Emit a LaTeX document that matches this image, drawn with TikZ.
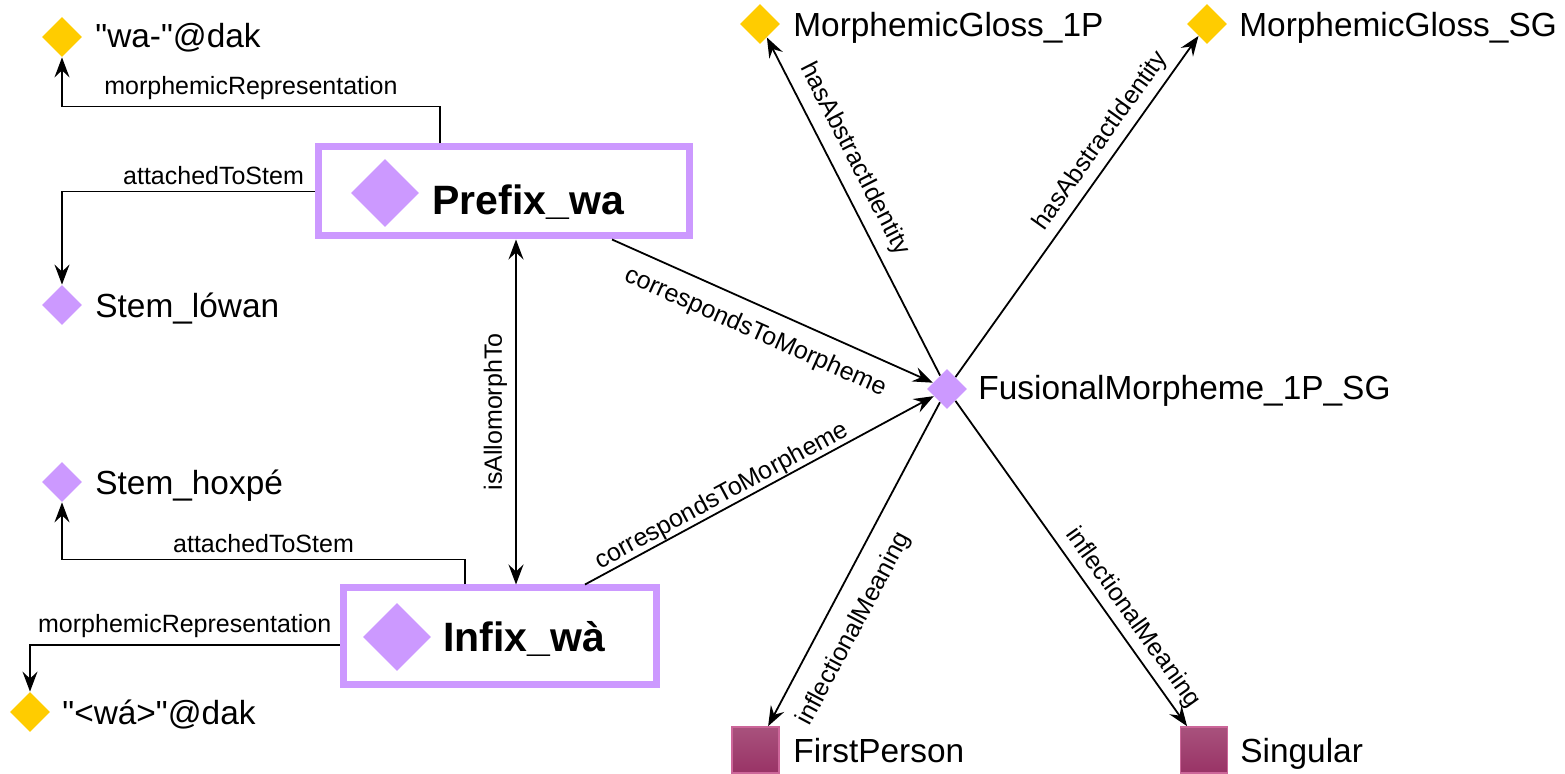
\documentclass[tikz,border=0pt]{standalone}
\usepackage{fontspec}
\setmainfont{Liberation Sans}
\usetikzlibrary{shapes.geometric,arrows.meta,calc}
\definecolor{lav}{HTML}{CC99FF}
\definecolor{gold}{HTML}{FFCC00}
\definecolor{plum}{HTML}{993366}
\definecolor{plumedge}{HTML}{CC6699}
\begin{document}
\begin{tikzpicture}[x=0.5pt,y=-0.5pt,
  dia/.style={diamond, inner sep=0pt, minimum width=20pt, minimum height=20pt},
  bigdia/.style={diamond, inner sep=0pt, minimum width=34pt, minimum height=34pt, fill=lav},
  bigbox/.style={rectangle, draw=lav, line width=3.5pt, fill=white, inner sep=0pt},
  sq/.style={rectangle, top color=plum!85!white, bottom color=plum, draw=plumedge, line width=0.8pt, minimum width=23.5pt, minimum height=23pt, inner sep=0pt},
  txt/.style={anchor=base west, inner sep=0pt, font=\fontsize{16.7}{20}\selectfont},
  boldtxt/.style={anchor=base west, inner sep=0pt, font=\fontsize{20.5}{24}\selectfont\bfseries},
  elbl/.style={inner sep=3pt, font=\fontsize{12.5}{15}\selectfont},
  tip/.tip={Stealth[length=10pt,width=7.5pt,inset=3.5pt]},
  arr/.style={-tip, line width=0.9pt},
  arrtwo/.style={tip-tip, line width=0.9pt}]
\useasboundingbox (0,0) rectangle (1565,774);

% boxes
\node[bigbox, minimum width=185.5pt, minimum height=44.5pt] (prefix) at (503.5,191.5) {};
\node[bigdia] (prefixd) at (385,193) {};
\node[boldtxt] (prefixt) at (432,215) {Prefix\_wa};
\node[bigbox, minimum width=156.5pt, minimum height=48.5pt] (infix) at (499.5,636.5) {};
\node[bigdia] (infixd) at (397,637) {};
\node[boldtxt] (infixt) at (443,652) {Infix\_wà};

% small nodes
\node[dia, fill=gold] (wadak) at (62,37) {};
\node[txt] (wadakt) at (95,48) {\textquotedbl wa-\textquotedbl @dak};
\node[dia, fill=lav] (stemlowan) at (62,305) {};
\node[txt] (stemlowant) at (95,318) {Stem\_lówan};
\node[dia, fill=lav] (stemhoxpe) at (62,482) {};
\node[txt] (stemhoxpet) at (95,495) {Stem\_hoxpé};
\node[dia, fill=gold] (wadaktwo) at (30,712) {};
\node[txt] (wadaktwot) at (62,725) {\textquotedbl <wá>\textquotedbl @dak};
\node[dia, fill=gold] (mgone) at (760,24) {};
\node[txt] (mgonet) at (793,37) {MorphemicGloss\_1P};
\node[dia, fill=gold] (mgsg) at (1207,24) {};
\node[txt] (mgsgt) at (1239,37) {MorphemicGloss\_SG};
\node[dia, fill=lav] (fus) at (947,389) {};
\node[txt] (fust) at (978,400) {FusionalMorpheme\_1P\_SG};
\node[sq] (first) at (755.5,750) {};
\node[txt] (firstt) at (793,763) {FirstPerson};
\node[sq] (sing) at (1204,750) {};
\node[txt] (singt) at (1240,763) {Singular};

% connectors
\draw[arr] ($(prefix.north)+(-63.5,0)$) -- ++(0,-37) -| (wadak)
  node[pos=0.25, above, elbl] {morphemicRepresentation};
\draw[arr] (prefix.west) -| (stemlowan)
  node[pos=0.2, above, elbl] {attachedToStem};
\draw[arrtwo] ($(infix.north)+(16.5,0)$) -- ($(prefix.south)+(12.5,0)$)
  node[midway, sloped, above=1pt, elbl] {isAllomorphTo};
\draw[arr] ($(prefix.south)+(108.5,0)$) -- (fus)
  node[pos=0.48, sloped, below=4pt, elbl] {correspondsToMorpheme};
\draw[arr] ($(infix.north)+(85.5,0)$) -- (fus)
  node[pos=0.41, sloped, above=-3pt, elbl] {correspondsToMorpheme};
\draw[arr] ($(infix.north)+(-34.5,0)$) -- ++(0,-25) -| (stemhoxpe)
  node[pos=0.25, above, elbl] {attachedToStem};
\draw[arr] ($(infix.west)+(0,8.5)$) -| (wadaktwo)
  node[pos=0.25, above, elbl] {morphemicRepresentation};
\draw[arr] (fus) -- (mgone)
  node[pos=0.61, sloped, above=2pt, elbl] {hasAbstractIdentity};
\draw[arr] (fus) -- (mgsg)
  node[pos=0.66, sloped, above, elbl] {hasAbstractIdentity};
\draw[arr] (fus) -- (first)
  node[pos=0.655, sloped, below=6pt, elbl] {inflectionalMeaning};
\draw[arr] (fus) -- (sing)
  node[pos=0.7, sloped, above, elbl] {inflectionalMeaning};
\end{tikzpicture}
\end{document}
